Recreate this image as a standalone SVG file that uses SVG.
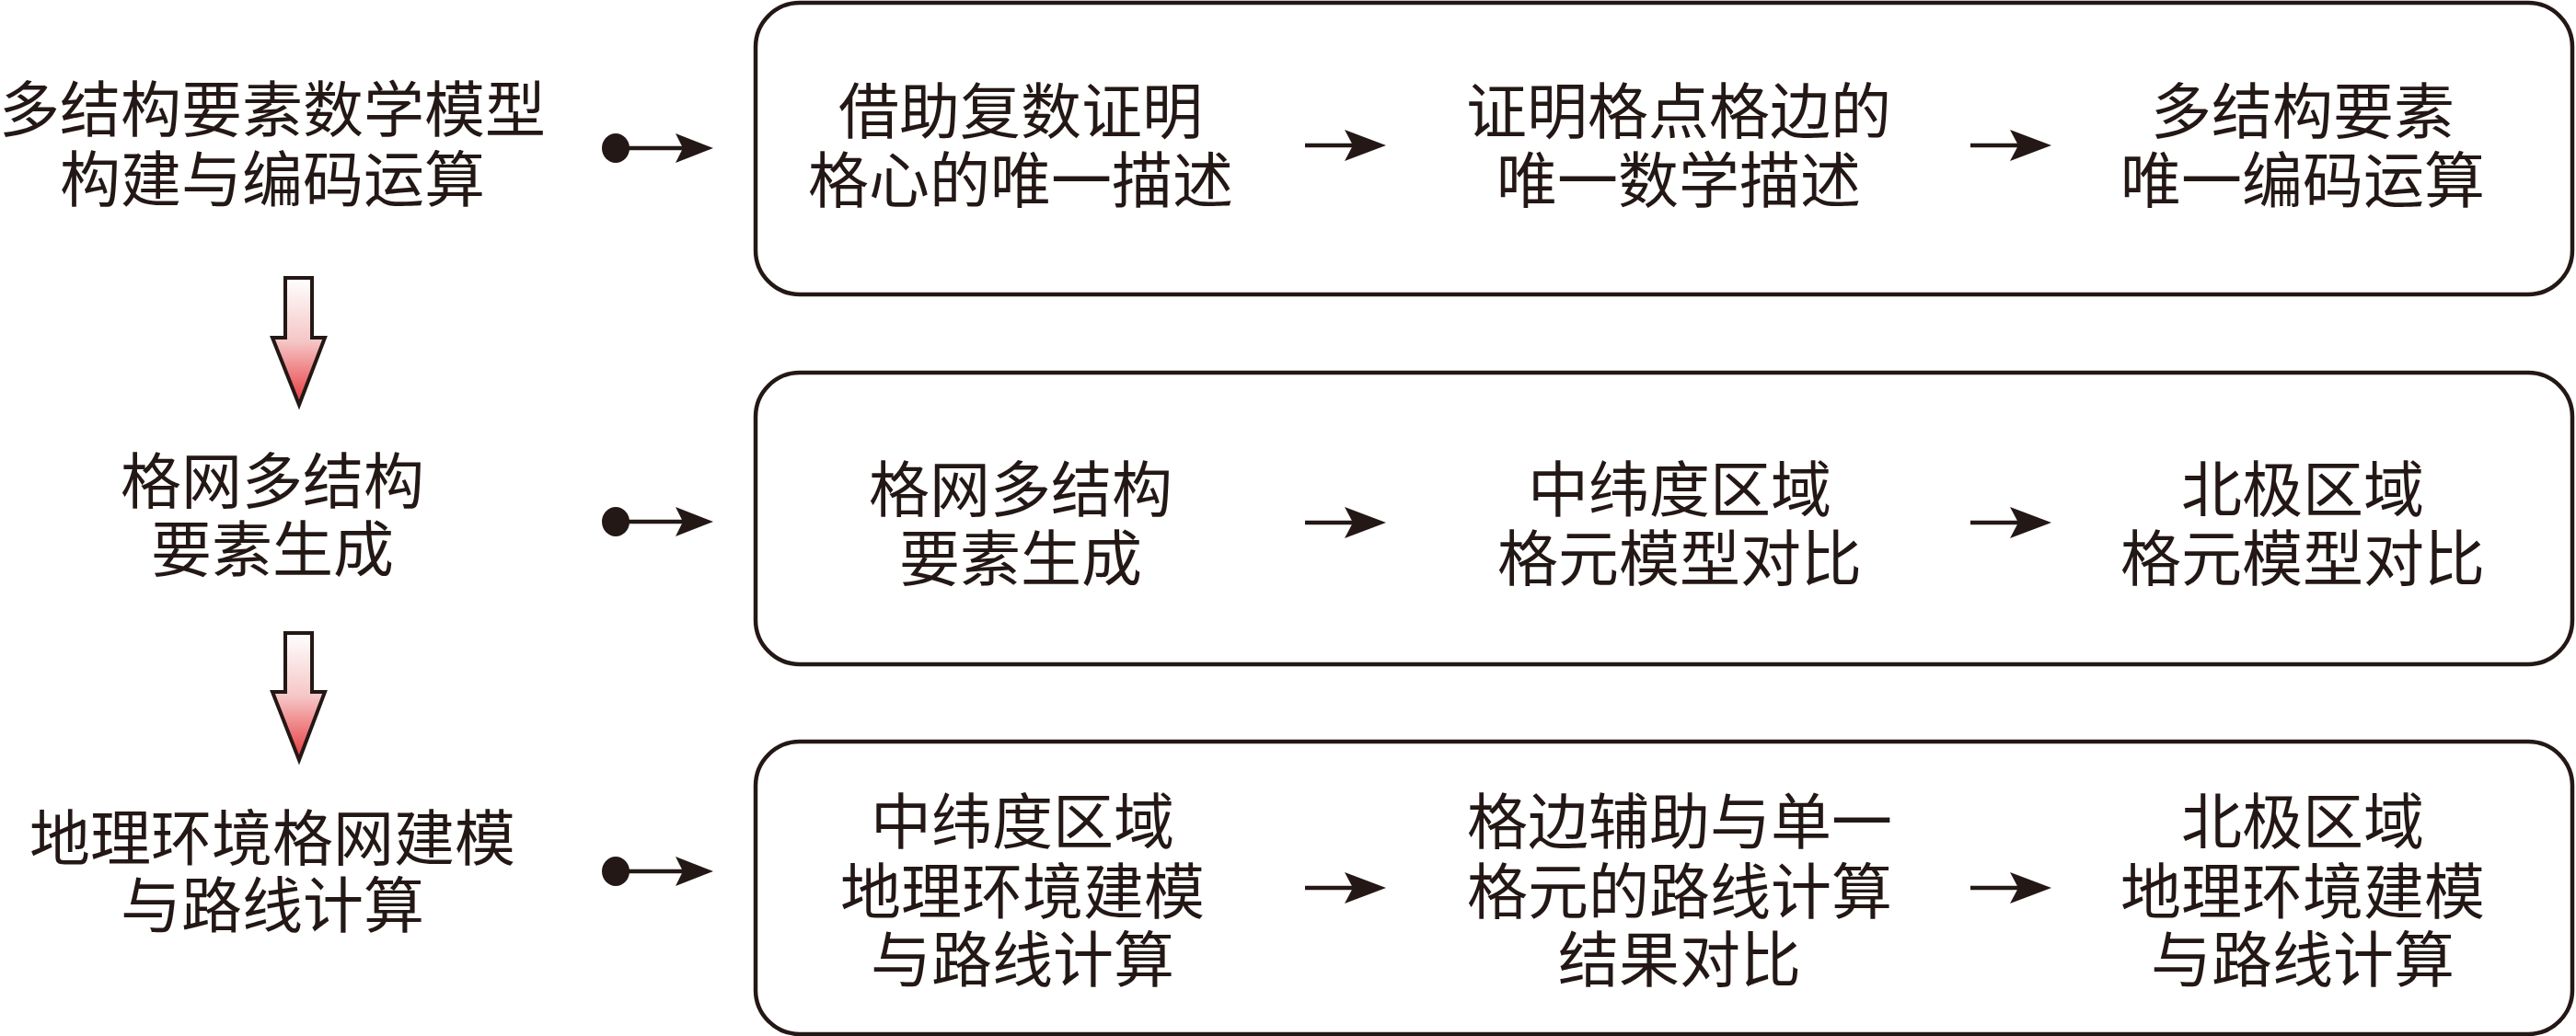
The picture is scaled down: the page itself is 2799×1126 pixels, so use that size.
<svg xmlns="http://www.w3.org/2000/svg" width="2799" height="1126" viewBox="0 0 2799 1126">
<style>
.t{font-family:"Noto Sans CJK SC","Noto Sans",sans-serif;font-size:66px;fill:#231815;text-anchor:middle}
.box{fill:#ffffff;stroke:#231815;stroke-width:4.5}
.ln{stroke:#231815;stroke-width:4.5;fill:none}
.hd{fill:#231815}
.big{fill:url(#rg);stroke:#231815;stroke-width:4}
</style>
<defs>
<linearGradient id="rg" x1="0" y1="0" x2="0" y2="1">
<stop offset="0" stop-color="#ffffff"/>
<stop offset="0.5" stop-color="#f5c6c6"/>
<stop offset="1" stop-color="#e8363b"/>
</linearGradient>
</defs>
<rect width="2799" height="1126" fill="#ffffff"/>

<g id="left1">
<text class="t" x="296" y="143">多结构要素数学模型</text>
<text class="t" x="296" y="219">构建与编码运算</text>
</g>
<g id="left2">
<text class="t" x="296" y="547">格网多结构</text>
<text class="t" x="296" y="621">要素生成</text>
</g>
<g id="left3">
<text class="t" x="296" y="935">地理环境格网建模</text>
<text class="t" x="296" y="1008">与路线计算</text>
</g>

<g id="box1">
<rect class="box" x="821" y="3" width="1974" height="317" rx="48" ry="48"/>
<text class="t" x="1109" y="145">借助复数证明</text>
<text class="t" x="1109" y="220">格心的唯一描述</text>
<text class="t" x="1824" y="145">证明格点格边的</text>
<text class="t" x="1824" y="220">唯一数学描述</text>
<text class="t" x="2502" y="145">多结构要素</text>
<text class="t" x="2502" y="220">唯一编码运算</text>
</g>
<g id="box2">
<rect class="box" x="821" y="405" width="1974" height="317" rx="48" ry="48"/>
<text class="t" x="1109" y="556">格网多结构</text>
<text class="t" x="1109" y="631">要素生成</text>
<text class="t" x="1825" y="556">中纬度区域</text>
<text class="t" x="1825" y="631">格元模型对比</text>
<text class="t" x="2502" y="556">北极区域</text>
<text class="t" x="2502" y="631">格元模型对比</text>
</g>
<g id="box3">
<rect class="box" x="821" y="806" width="1974" height="318" rx="48" ry="48"/>
<text class="t" x="1111" y="917">中纬度区域</text>
<text class="t" x="1111" y="993">地理环境建模</text>
<text class="t" x="1111" y="1067">与路线计算</text>
<text class="t" x="1825" y="917">格边辅助与单一</text>
<text class="t" x="1825" y="993">格元的路线计算</text>
<text class="t" x="1825" y="1067">结果对比</text>
<text class="t" x="2502" y="917">北极区域</text>
<text class="t" x="2502" y="993">地理环境建模</text>
<text class="t" x="2502" y="1067">与路线计算</text>
</g>

<g id="connectors">
<!-- vertical gradient arrows -->
<polygon class="big" points="310,302 339,302 339,367 353,367 325,440 296,367 310,367"/>
<polygon class="big" points="310,688 339,688 339,752 353,752 325,826 296,752 310,752"/>
<!-- dot arrows -->
<ellipse class="hd" cx="669" cy="161" rx="15" ry="16"/>
<line class="ln" x1="669" y1="161" x2="745" y2="161"/>
<polygon class="hd" points="734,145 775,161 734,177 742,161"/>
<ellipse class="hd" cx="669" cy="567" rx="15" ry="16"/>
<line class="ln" x1="669" y1="567" x2="745" y2="567"/>
<polygon class="hd" points="734,551 775,567 734,583 742,567"/>
<ellipse class="hd" cx="669" cy="947" rx="15" ry="16"/>
<line class="ln" x1="669" y1="947" x2="745" y2="947"/>
<polygon class="hd" points="734,931 775,947 734,963 742,947"/>
<!-- inner arrows -->
<line class="ln" x1="1418" y1="158" x2="1470" y2="158"/>
<polygon class="hd" points="1461,141 1506,158 1461,175 1470,158"/>
<line class="ln" x1="2141" y1="158" x2="2193" y2="158"/>
<polygon class="hd" points="2184,141 2229,158 2184,175 2193,158"/>
<line class="ln" x1="1418" y1="568" x2="1470" y2="568"/>
<polygon class="hd" points="1461,551 1506,568 1461,585 1470,568"/>
<line class="ln" x1="2141" y1="568" x2="2193" y2="568"/>
<polygon class="hd" points="2184,551 2229,568 2184,585 2193,568"/>
<line class="ln" x1="1418" y1="965" x2="1470" y2="965"/>
<polygon class="hd" points="1461,948 1506,965 1461,982 1470,965"/>
<line class="ln" x1="2141" y1="965" x2="2193" y2="965"/>
<polygon class="hd" points="2184,948 2229,965 2184,982 2193,965"/>
</g>
</svg>
